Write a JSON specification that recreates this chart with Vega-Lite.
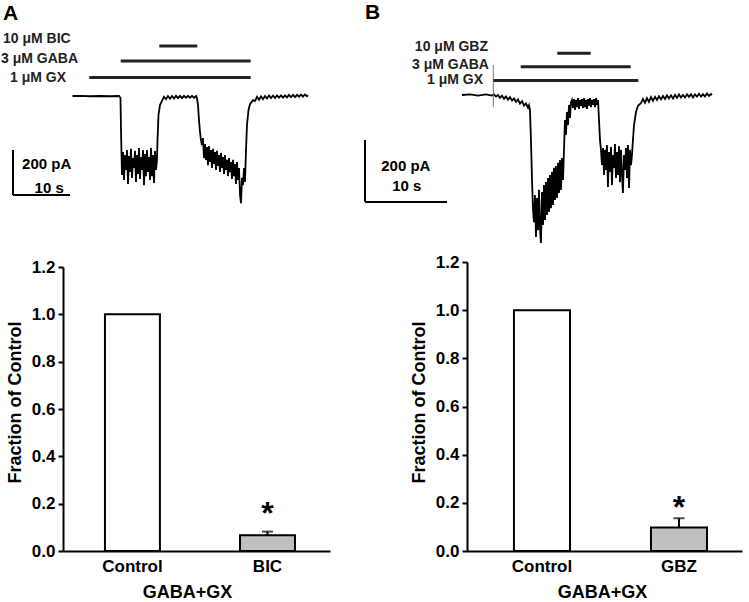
{
  "$schema": "https://vega.github.io/schema/vega-lite/v6.json",
  "background": "white",
  "padding": {"left": 1, "top": 0, "right": 4, "bottom": 0},
  "autosize": {"type": "pad"},
  "config": {
    "view": {"stroke": null},
    "font": "Liberation Sans",
    "axis": {"domainColor": "black", "tickColor": "black", "labelColor": "black", "titleColor": "black", "labelFont": "Liberation Sans", "titleFont": "Liberation Sans", "labelFontWeight": "bold", "titleFontWeight": "bold", "grid": false}
  },
  "datasets": {
    "traceA": [
      {"t":0,"i":0},{"t":1.32,"i":1},{"t":3.07,"i":-1},{"t":4.82,"i":0},{"t":6.58,"i":-1},{"t":8.16,"i":0},{"t":8.42,"i":-9},{"t":8.51,"i":-151},{"t":8.60,"i":-260},
      {"t":8.68,"i":-351},{"t":8.86,"i":-249},{"t":9.04,"i":-373},{"t":9.21,"i":-262},{"t":9.39,"i":-329},{"t":9.56,"i":-240},{"t":9.74,"i":-391},{"t":9.91,"i":-267},{"t":10.09,"i":-338},{"t":10.26,"i":-235},{"t":10.44,"i":-364},{"t":10.61,"i":-276},{"t":10.79,"i":-320},{"t":10.96,"i":-244},{"t":11.14,"i":-382},{"t":11.32,"i":-262},{"t":11.49,"i":-347},{"t":11.67,"i":-231},{"t":11.84,"i":-369},{"t":12.02,"i":-271},{"t":12.19,"i":-329},{"t":12.37,"i":-240},{"t":12.54,"i":-396},{"t":12.72,"i":-258},{"t":12.89,"i":-356},{"t":13.07,"i":-240},{"t":13.25,"i":-338},{"t":13.42,"i":-271},{"t":13.60,"i":-373},{"t":13.77,"i":-231},{"t":13.95,"i":-356},{"t":14.12,"i":-262},{"t":14.30,"i":-387},{"t":14.47,"i":-244},{"t":14.65,"i":-329},{"t":14.82,"i":-284},
      {"t":14.91,"i":-196},{"t":15.09,"i":-84},{"t":15.35,"i":-40},{"t":15.70,"i":-22},
      {"t":16.05,"i":-4},{"t":16.40,"i":-14},{"t":16.75,"i":0},{"t":17.11,"i":-12},{"t":17.46,"i":0},{"t":17.81,"i":-11},{"t":18.16,"i":1},{"t":18.51,"i":-9},{"t":18.86,"i":1},{"t":19.21,"i":-9},{"t":19.56,"i":1},{"t":19.91,"i":-8},{"t":20.26,"i":1},{"t":20.61,"i":-8},{"t":20.96,"i":1},{"t":21.32,"i":-8},{"t":21.67,"i":0},{"t":21.84,"i":-9},
      {"t":22.02,"i":-40},{"t":22.19,"i":-107},{"t":22.37,"i":-160},{"t":22.54,"i":-196},{"t":22.72,"i":-218},
      {"t":22.89,"i":-187},{"t":23.07,"i":-276},{"t":23.25,"i":-213},{"t":23.42,"i":-284},{"t":23.60,"i":-227},{"t":23.77,"i":-307},{"t":23.95,"i":-222},{"t":24.12,"i":-293},{"t":24.30,"i":-240},{"t":24.47,"i":-320},{"t":24.65,"i":-235},{"t":24.82,"i":-302},{"t":25.00,"i":-249},{"t":25.18,"i":-329},{"t":25.35,"i":-244},{"t":25.53,"i":-311},{"t":25.70,"i":-262},{"t":25.88,"i":-338},{"t":26.05,"i":-253},{"t":26.23,"i":-320},{"t":26.40,"i":-271},{"t":26.58,"i":-347},{"t":26.75,"i":-262},{"t":26.93,"i":-329},{"t":27.11,"i":-284},{"t":27.28,"i":-356},{"t":27.46,"i":-276},{"t":27.63,"i":-338},{"t":27.81,"i":-293},{"t":27.98,"i":-369},{"t":28.16,"i":-284},{"t":28.33,"i":-356},{"t":28.51,"i":-302},{"t":28.68,"i":-391},{"t":28.86,"i":-293},{"t":29.04,"i":-373},{"t":29.21,"i":-320},{"t":29.39,"i":-440},{"t":29.56,"i":-476},{"t":29.74,"i":-364},{"t":29.91,"i":-396},{"t":30.09,"i":-320},{"t":30.26,"i":-382},
      {"t":30.44,"i":-240},{"t":30.61,"i":-129},{"t":30.88,"i":-62},{"t":31.14,"i":-36},{"t":31.67,"i":-18},
      {"t":32.02,"i":-22},{"t":32.37,"i":-4},{"t":32.72,"i":-17},{"t":33.07,"i":-2},{"t":33.42,"i":-14},{"t":33.77,"i":0},{"t":34.12,"i":-11},{"t":34.47,"i":2},{"t":34.82,"i":-9},{"t":35.18,"i":2},{"t":35.53,"i":-9},{"t":35.88,"i":3},{"t":36.23,"i":-7},{"t":36.58,"i":3},{"t":36.93,"i":-7},{"t":37.28,"i":3},{"t":37.63,"i":-6},{"t":37.98,"i":5},{"t":38.33,"i":-5},{"t":38.68,"i":5},{"t":39.04,"i":-5},{"t":39.39,"i":5},{"t":39.74,"i":-3},{"t":40.09,"i":6},{"t":40.44,"i":-3},{"t":40.79,"i":7},{"t":41.14,"i":-1},{"t":41.32,"i":4}
    ],
    "traceB": [
      {"t":0,"i":0},{"t":0.98,"i":2},{"t":1.95,"i":-2},{"t":2.93,"i":2},{"t":3.66,"i":-2},{"t":3.90,"i":2},{"t":4.15,"i":-5},{"t":4.39,"i":0},{"t":4.63,"i":-9},{"t":4.88,"i":-2},{"t":5.12,"i":-12},{"t":5.37,"i":-5},{"t":5.61,"i":-15},{"t":5.85,"i":-7},{"t":6.10,"i":-18},{"t":6.34,"i":-11},{"t":6.59,"i":-22},{"t":6.83,"i":-14},{"t":7.07,"i":-28},{"t":7.32,"i":-20},{"t":7.56,"i":-34},{"t":7.80,"i":-27},{"t":8.05,"i":-41},{"t":8.17,"i":-33},{"t":8.29,"i":-48},
      {"t":8.41,"i":-145},{"t":8.54,"i":-274},{"t":8.66,"i":-371},
      {"t":8.78,"i":-410},{"t":8.90,"i":-323},{"t":9.02,"i":-458},{"t":9.15,"i":-332},{"t":9.27,"i":-436},{"t":9.39,"i":-306},{"t":9.51,"i":-429},{"t":9.63,"i":-477},{"t":9.76,"i":-313},{"t":9.88,"i":-419},{"t":10.00,"i":-290},{"t":10.12,"i":-403},{"t":10.24,"i":-281},{"t":10.37,"i":-387},{"t":10.49,"i":-268},{"t":10.61,"i":-377},{"t":10.73,"i":-258},{"t":10.85,"i":-365},{"t":10.98,"i":-248},{"t":11.10,"i":-355},{"t":11.22,"i":-235},{"t":11.34,"i":-339},{"t":11.46,"i":-229},{"t":11.59,"i":-332},{"t":11.71,"i":-219},{"t":11.83,"i":-316},{"t":11.95,"i":-210},{"t":12.07,"i":-306},{"t":12.20,"i":-203},{"t":12.32,"i":-274},
      {"t":12.44,"i":-177},{"t":12.56,"i":-81},{"t":12.68,"i":-129},{"t":12.80,"i":-55},{"t":12.93,"i":-97},{"t":13.05,"i":-32},{"t":13.17,"i":-74},{"t":13.29,"i":-23},
      {"t":13.41,"i":-16},{"t":13.54,"i":-42},{"t":13.66,"i":-13},{"t":13.78,"i":-48},{"t":13.90,"i":-16},{"t":14.02,"i":-39},{"t":14.15,"i":-10},{"t":14.27,"i":-45},{"t":14.39,"i":-16},{"t":14.51,"i":-35},{"t":14.63,"i":-13},{"t":14.76,"i":-42},{"t":14.88,"i":-10},{"t":15.00,"i":-39},{"t":15.12,"i":-16},{"t":15.24,"i":-45},{"t":15.37,"i":-13},{"t":15.49,"i":-35},{"t":15.61,"i":-10},{"t":15.73,"i":-39},{"t":15.85,"i":-16},{"t":15.98,"i":-32},{"t":16.10,"i":-13},{"t":16.22,"i":-39},{"t":16.34,"i":-10},{"t":16.46,"i":-32},{"t":16.59,"i":-16},
      {"t":16.71,"i":-81},{"t":16.83,"i":-145},{"t":16.95,"i":-177},
      {"t":17.07,"i":-226},{"t":17.20,"i":-171},{"t":17.32,"i":-258},{"t":17.44,"i":-177},{"t":17.56,"i":-242},{"t":17.68,"i":-161},{"t":17.80,"i":-297},{"t":17.93,"i":-184},{"t":18.05,"i":-248},{"t":18.17,"i":-168},{"t":18.29,"i":-290},{"t":18.41,"i":-194},{"t":18.54,"i":-235},{"t":18.66,"i":-158},{"t":18.78,"i":-268},{"t":18.90,"i":-184},{"t":19.02,"i":-258},{"t":19.15,"i":-165},{"t":19.27,"i":-281},{"t":19.39,"i":-177},{"t":19.51,"i":-255},{"t":19.63,"i":-316},{"t":19.76,"i":-194},{"t":19.88,"i":-242},{"t":20.00,"i":-171},{"t":20.12,"i":-268},{"t":20.24,"i":-161},{"t":20.37,"i":-300},{"t":20.49,"i":-177},{"t":20.61,"i":-226},{"t":20.73,"i":-194},
      {"t":20.85,"i":-145},{"t":20.98,"i":-97},{"t":21.22,"i":-55},{"t":21.46,"i":-35},{"t":21.83,"i":-26},
      {"t":22.07,"i":-13},{"t":22.32,"i":-25},{"t":22.56,"i":-10},{"t":22.80,"i":-22},{"t":23.05,"i":-7},{"t":23.29,"i":-19},{"t":23.54,"i":-6},{"t":23.78,"i":-16},{"t":24.02,"i":-4},{"t":24.27,"i":-14},{"t":24.51,"i":-3},{"t":24.76,"i":-13},{"t":25.00,"i":-1},{"t":25.24,"i":-11},{"t":25.49,"i":-1},{"t":25.73,"i":-11},{"t":25.98,"i":0},{"t":26.22,"i":-9},{"t":26.46,"i":2},{"t":26.71,"i":-8},{"t":26.95,"i":0},{"t":27.20,"i":-8},{"t":27.44,"i":2},{"t":27.68,"i":-6},{"t":27.93,"i":2},{"t":28.17,"i":-8},{"t":28.41,"i":2},{"t":28.66,"i":-5},{"t":28.90,"i":4},{"t":29.15,"i":-5},{"t":29.39,"i":3},{"t":29.63,"i":-5},{"t":29.88,"i":5},{"t":30.12,"i":-3},{"t":30.37,"i":3},{"t":30.49,"i":0}
    ],
    "drugA": [
      {"drug":"BIC","t":15.23,"t2":21.89,"i":222},
      {"drug":"GABA","t":8.46,"t2":31.26,"i":156},
      {"drug":"GX","t":2.95,"t2":31.26,"i":82}
    ],
    "drugB": [
      {"drug":"GBZ","t":11.62,"t2":15.70,"i":134.5},
      {"drug":"GABA","t":7.16,"t2":20.57,"i":91.3},
      {"drug":"GX","t":3.82,"t2":21.50,"i":46.8}
    ],
    "scaleA": [
      {"t":-10.44,"t2":-0.44,"i":-440,"i2":-440},
      {"t":-10.44,"t2":-10.44,"i":-240,"i2":-440}
    ],
    "scaleB": [
      {"t":-11.83,"t2":-1.83,"i":-345,"i2":-345},
      {"t":-11.83,"t2":-11.83,"i":-145,"i2":-345}
    ],
    "artB": [
      {"t":3.82,"t2":3.82,"i":97,"i2":-39}
    ],
    "annA": [
      {"kind":"drug","text":"10 μM BIC","t":-12.19,"i":253},
      {"kind":"drug","text":"3 μM GABA","t":-12.54,"i":164},
      {"kind":"drug","text":"1 μM GX","t":-10.96,"i":80},
      {"kind":"scale","text":"200 pA","t":-4.53,"i":-302},
      {"kind":"scale","text":"10 s","t":-4.09,"i":-409},
      {"kind":"panel","text":"A","t":-12.19,"i":338}
    ],
    "annB": [
      {"kind":"drug","text":"10 μM GBZ","t":3.17,"i":155},
      {"kind":"drug","text":"3 μM GABA","t":3.29,"i":97},
      {"kind":"drug","text":"1 μM GX","t":2.56,"i":48},
      {"kind":"scale","text":"200 pA","t":-6.85,"i":-229},
      {"kind":"scale","text":"10 s","t":-6.74,"i":-295},
      {"kind":"panel","text":"B","t":-11.83,"i":245}
    ],
    "barsA": [
      {"cond":"Control","value":1.0,"hi":1.0,"err":0},
      {"cond":"BIC","value":0.067,"hi":0.082,"err":0.015,"star":0.116}
    ],
    "barsB": [
      {"cond":"Control","value":1.0,"hi":1.0,"err":0},
      {"cond":"GBZ","value":0.098,"hi":0.136,"err":0.038,"star":0.135}
    ]
  },
  "columns": 2,
  "align": "none",
  "bounds": "flush",
  "spacing": {"row": 15, "column": 137},
  "concat": [
    {
      "width": 267, "height": 247,
      "encoding": {
        "x": {"field":"t","type":"quantitative","scale":{"domain":[-1.667,45.175],"nice":false,"zero":false},"axis":null},
        "y": {"field":"i","type":"quantitative","scale":{"domain":[-671.1,426.7],"nice":false,"zero":false},"axis":null}
      },
      "layer": [
        {"data":{"name":"traceA"},"mark":{"type":"line","color":"black","strokeWidth":1.8}},
        {"data":{"name":"drugA"},"mark":{"type":"rule","color":"#222222","strokeWidth":3},"encoding":{"x2":{"field":"t2"}}},
        {"data":{"name":"scaleA"},"mark":{"type":"rule","color":"black","strokeWidth":2},"encoding":{"x2":{"field":"t2"},"y2":{"field":"i2"}}},
        {"data":{"name":"annA"},"transform":[{"filter":"datum.kind === 'drug'"}],"mark":{"type":"text","align":"left","baseline":"middle","fontSize":14,"fontWeight":"bold","color":"#222222"},"encoding":{"text":{"field":"text"}}},
        {"data":{"name":"annA"},"transform":[{"filter":"datum.kind === 'scale'"}],"mark":{"type":"text","align":"center","baseline":"middle","fontSize":15,"fontWeight":"bold","color":"black"},"encoding":{"text":{"field":"text"}}},
        {"data":{"name":"annA"},"transform":[{"filter":"datum.kind === 'panel'"}],"mark":{"type":"text","align":"left","baseline":"alphabetic","fontSize":21,"fontWeight":"bold","color":"black"},"encoding":{"text":{"field":"text"}}}
      ]
    },
    {
      "width": 275, "height": 242,
      "encoding": {
        "x": {"field":"t","type":"quantitative","scale":{"domain":[0.61,34.15],"nice":false,"zero":false},"axis":null},
        "y": {"field":"i","type":"quantitative","scale":{"domain":[-474.2,306.5],"nice":false,"zero":false},"axis":null}
      },
      "layer": [
        {"data":{"name":"traceB"},"mark":{"type":"line","color":"black","strokeWidth":1.8}},
        {"data":{"name":"artB"},"mark":{"type":"rule","color":"#777777","strokeWidth":1},"encoding":{"x2":{"field":"t2"},"y2":{"field":"i2"}}},
        {"data":{"name":"drugB"},"mark":{"type":"rule","color":"#222222","strokeWidth":3},"encoding":{"x2":{"field":"t2"}}},
        {"data":{"name":"scaleB"},"mark":{"type":"rule","color":"black","strokeWidth":2},"encoding":{"x2":{"field":"t2"},"y2":{"field":"i2"}}},
        {"data":{"name":"annB"},"transform":[{"filter":"datum.kind === 'drug'"}],"mark":{"type":"text","align":"right","baseline":"middle","fontSize":14,"fontWeight":"bold","color":"#222222"},"encoding":{"text":{"field":"text"}}},
        {"data":{"name":"annB"},"transform":[{"filter":"datum.kind === 'scale'"}],"mark":{"type":"text","align":"center","baseline":"middle","fontSize":15,"fontWeight":"bold","color":"black"},"encoding":{"text":{"field":"text"}}},
        {"data":{"name":"annB"},"transform":[{"filter":"datum.kind === 'panel'"}],"mark":{"type":"text","align":"left","baseline":"alphabetic","fontSize":21,"fontWeight":"bold","color":"black"},"encoding":{"text":{"field":"text"}}}
      ]
    },
    {
      "width": 267, "height": 289,
      "data": {"name": "barsA"},
      "encoding": {
        "x": {"field":"cond","type":"nominal","sort":null,"title":"GABA+GX",
              "scale":{"paddingInner":0.593,"paddingOuter":0.285,"align":0.545},
              "axis":{"ticks":false,"domainWidth":2,"labelFontSize":17,"labelPadding":7,"labelAngle":0,"titleFontSize":18,"titlePadding":9,"titleX":124}}
      },
      "layer": [
        {"mark":{"type":"bar","stroke":"black","strokeWidth":2},
         "encoding":{
           "y":{"field":"value","type":"quantitative","title":"Fraction of Control","scale":{"domain":[0,1.2],"nice":false,"range":[289,5]},
                "axis":{"values":[0,0.1,0.2,0.3,0.4,0.5,0.6,0.7,0.8,0.9,1.0,1.1,1.2],
                        "labelExpr":"round(datum.value*10) % 2 == 0 ? format(datum.value, '.1f') : ''",
                        "tickSize":{"condition":{"test":"round(datum.value*10) % 2 == 0","value":5},"value":3},
                        "tickWidth":2,"domainWidth":2,"labelFontSize":17,"labelPadding":3,"labelOverlap":false,"labelFlush":false,
                        "titleFontSize":18,"titlePadding":7,"titleY":140}},
           "fill":{"condition":{"test":"datum.cond === 'Control'","value":"white"},"value":"#c0c0c0"}}},
        {"transform":[{"filter":"datum.err > 0"}],"mark":{"type":"rule","color":"black","strokeWidth":2},
         "encoding":{"y":{"field":"value","type":"quantitative","title":"Fraction of Control","scale":{"domain":[0,1.2],"nice":false,"range":[289,5]}},"y2":{"field":"hi"}}},
        {"transform":[{"filter":"datum.err > 0"}],"mark":{"type":"tick","color":"black","thickness":2,"size":11},
         "encoding":{"y":{"field":"hi","type":"quantitative","title":"Fraction of Control","scale":{"domain":[0,1.2],"nice":false,"range":[289,5]}}}},
        {"transform":[{"filter":"isValid(datum.star)"}],"mark":{"type":"text","text":"*","fontSize":32,"fontWeight":"bold","baseline":"alphabetic","align":"center","color":"black"},
         "encoding":{"y":{"field":"star","type":"quantitative","title":"Fraction of Control","scale":{"domain":[0,1.2],"nice":false,"range":[289,5]}}}}
      ]
    },
    {
      "width": 275, "height": 289,
      "data": {"name": "barsB"},
      "encoding": {
        "x": {"field":"cond","type":"nominal","sort":null,"title":"GABA+GX",
              "scale":{"paddingInner":0.591,"paddingOuter":0.299,"align":0.573},
              "axis":{"ticks":false,"domainWidth":2,"labelFontSize":17,"labelPadding":7,"labelAngle":0,"titleFontSize":18,"titlePadding":9,"titleX":135}}
      },
      "layer": [
        {"mark":{"type":"bar","stroke":"black","strokeWidth":2},
         "encoding":{
           "y":{"field":"value","type":"quantitative","title":"Fraction of Control","scale":{"domain":[0,1.2],"nice":false},
                "axis":{"values":[0,0.1,0.2,0.3,0.4,0.5,0.6,0.7,0.8,0.9,1.0,1.1,1.2],
                        "labelExpr":"round(datum.value*10) % 2 == 0 ? format(datum.value, '.1f') : ''",
                        "tickSize":{"condition":{"test":"round(datum.value*10) % 2 == 0","value":5},"value":3},
                        "tickWidth":2,"domainWidth":2,"labelFontSize":17,"labelPadding":3,"labelOverlap":false,"labelFlush":false,
                        "titleFontSize":18,"titlePadding":7,"titleY":140}},
           "fill":{"condition":{"test":"datum.cond === 'Control'","value":"white"},"value":"#c0c0c0"}}},
        {"transform":[{"filter":"datum.err > 0"}],"mark":{"type":"rule","color":"black","strokeWidth":2},
         "encoding":{"y":{"field":"value","type":"quantitative","title":"Fraction of Control","scale":{"domain":[0,1.2],"nice":false}},"y2":{"field":"hi"}}},
        {"transform":[{"filter":"datum.err > 0"}],"mark":{"type":"tick","color":"black","thickness":2,"size":11},
         "encoding":{"y":{"field":"hi","type":"quantitative","title":"Fraction of Control","scale":{"domain":[0,1.2],"nice":false}}}},
        {"transform":[{"filter":"isValid(datum.star)"}],"mark":{"type":"text","text":"*","fontSize":32,"fontWeight":"bold","baseline":"alphabetic","align":"center","color":"black"},
         "encoding":{"y":{"field":"star","type":"quantitative","title":"Fraction of Control","scale":{"domain":[0,1.2],"nice":false}}}}
      ]
    }
  ]
}
